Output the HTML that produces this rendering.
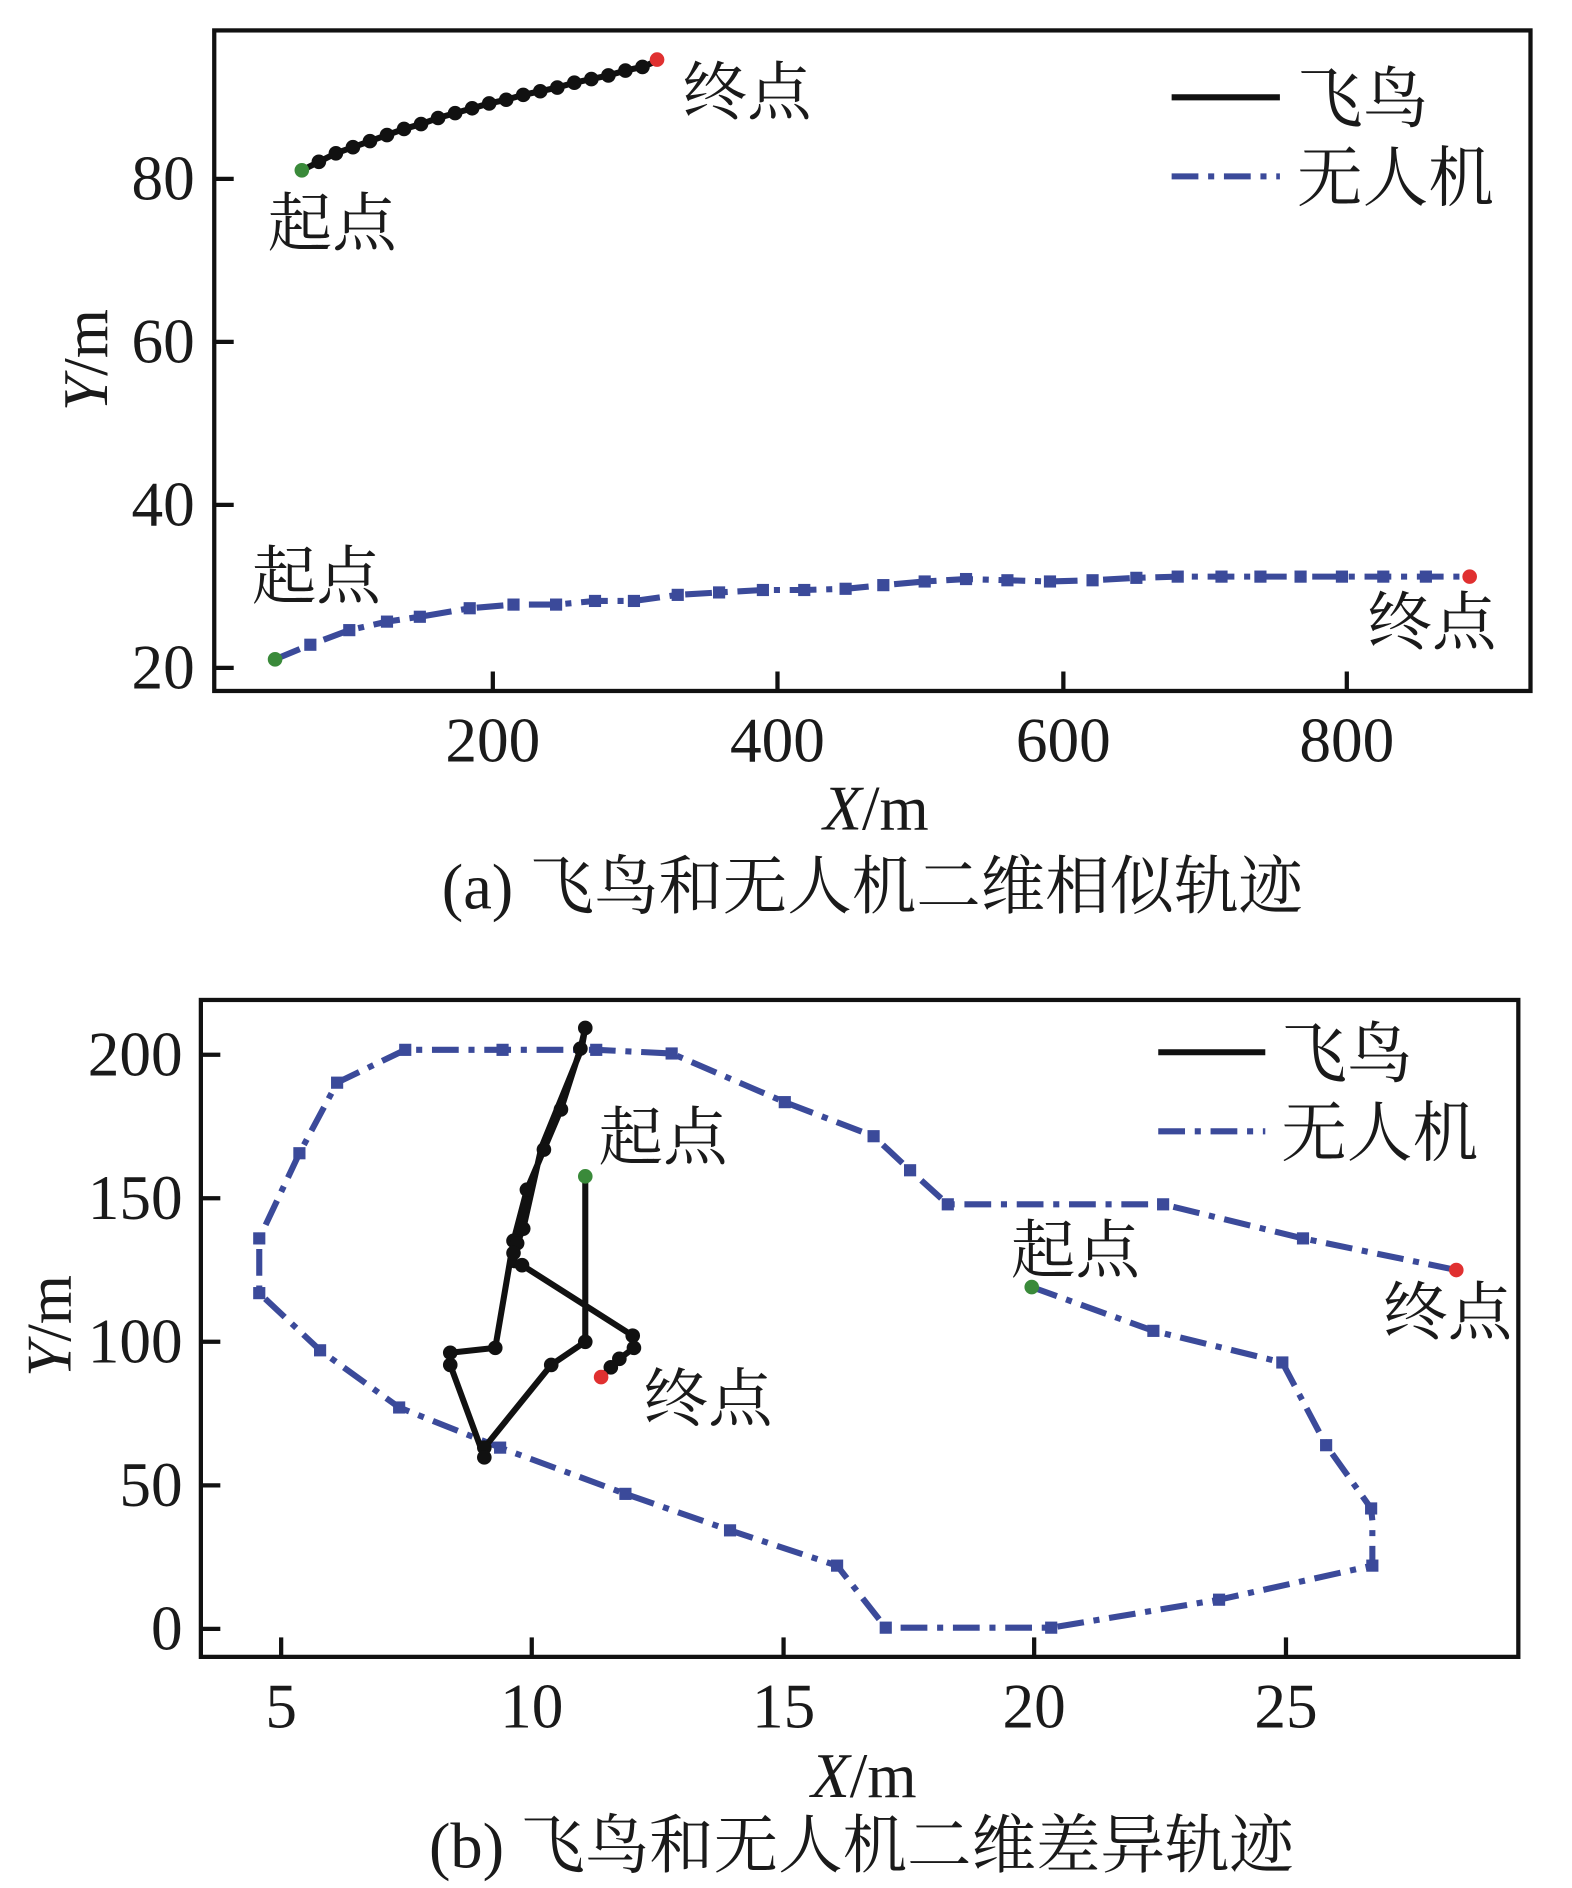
<!DOCTYPE html>
<html><head><meta charset="utf-8"><style>html,body{margin:0;padding:0;background:#fff}svg{display:block}
text{font-family:"Liberation Serif","Noto Serif CJK SC","Noto Sans CJK SC",serif;fill:#1a1a1a}</style></head><body>
<svg width="1572" height="1888" viewBox="0 0 1292 1552" xmlns="http://www.w3.org/2000/svg">
<!-- Panel a -->
<rect x="176" y="25" width="1082" height="543" fill="none" stroke="#111" stroke-width="3.5"/>
<g stroke="#111" stroke-width="3.5">
<line x1="176" y1="147" x2="192" y2="147"/><line x1="176" y1="281" x2="192" y2="281"/><line x1="176" y1="415" x2="192" y2="415"/><line x1="176" y1="549" x2="192" y2="549"/>
<line x1="405" y1="568" x2="405" y2="552"/><line x1="639" y1="568" x2="639" y2="552"/><line x1="874" y1="568" x2="874" y2="552"/><line x1="1107" y1="568" x2="1107" y2="552"/>
</g>
<g font-size="52" text-anchor="end"><text x="160" y="164">80</text><text x="160" y="298">60</text><text x="160" y="432">40</text><text x="160" y="566">20</text></g>
<g font-size="52" text-anchor="middle"><text x="405" y="626">200</text><text x="639" y="626">400</text><text x="874" y="626">600</text><text x="1107" y="626">800</text></g>
<text x="720" y="682" font-size="52" text-anchor="middle"><tspan font-style="italic">X</tspan>/m</text>
<text transform="translate(88,296) rotate(-90)" font-size="52" text-anchor="middle"><tspan font-style="italic">Y</tspan>/m</text>
<text x="717" y="747" font-size="53" text-anchor="middle">(a) 飞鸟和无人机二维相似轨迹</text>
<polyline fill="none" stroke="#111" stroke-width="5" points="248,140 262,133 276,126 290,121 304,116 318,111 332,106 346,102 360,97 374,93 388,89 402,85 416,82 430,78 444,75 458,72 472,68 486,65 500,62 514,58 528,55 540,50"/>
<g fill="#111"><circle cx="262" cy="133" r="6"/><circle cx="276" cy="126" r="6"/><circle cx="290" cy="121" r="6"/><circle cx="304" cy="116" r="6"/><circle cx="318" cy="111" r="6"/><circle cx="332" cy="106" r="6"/><circle cx="346" cy="102" r="6"/><circle cx="360" cy="97" r="6"/><circle cx="374" cy="93" r="6"/><circle cx="388" cy="89" r="6"/><circle cx="402" cy="85" r="6"/><circle cx="416" cy="82" r="6"/><circle cx="430" cy="78" r="6"/><circle cx="444" cy="75" r="6"/><circle cx="458" cy="72" r="6"/><circle cx="472" cy="68" r="6"/><circle cx="486" cy="65" r="6"/><circle cx="500" cy="62" r="6"/><circle cx="514" cy="58" r="6"/><circle cx="528" cy="55" r="6"/></g>
<circle cx="248" cy="140" r="6" fill="#3a8a3a"/><circle cx="540" cy="49" r="6" fill="#e03030"/>
<polyline fill="none" stroke="#3b4a9a" stroke-width="5" stroke-dasharray="22,8,5,8" points="226,542 255,530 287,518 318,511 345,507 386,500 422,497 457,497 489,494 521,494 557,489 591,487 627,485 661,485 695,484 726,481 760,478 794,476 828,477 863,478 898,477 934,475 968,474 1004,474 1036,474 1069,474 1103,474 1137,474 1172,474 1208,474"/>
<g fill="#3b4a9a"><rect x="250" y="525" width="10" height="10"/><rect x="282" y="513" width="10" height="10"/><rect x="313" y="506" width="10" height="10"/><rect x="340" y="502" width="10" height="10"/><rect x="381" y="495" width="10" height="10"/><rect x="417" y="492" width="10" height="10"/><rect x="452" y="492" width="10" height="10"/><rect x="484" y="489" width="10" height="10"/><rect x="516" y="489" width="10" height="10"/><rect x="552" y="484" width="10" height="10"/><rect x="586" y="482" width="10" height="10"/><rect x="622" y="480" width="10" height="10"/><rect x="656" y="480" width="10" height="10"/><rect x="690" y="479" width="10" height="10"/><rect x="721" y="476" width="10" height="10"/><rect x="755" y="473" width="10" height="10"/><rect x="789" y="471" width="10" height="10"/><rect x="823" y="472" width="10" height="10"/><rect x="858" y="473" width="10" height="10"/><rect x="893" y="472" width="10" height="10"/><rect x="929" y="470" width="10" height="10"/><rect x="963" y="469" width="10" height="10"/><rect x="999" y="469" width="10" height="10"/><rect x="1031" y="469" width="10" height="10"/><rect x="1064" y="469" width="10" height="10"/><rect x="1098" y="469" width="10" height="10"/><rect x="1132" y="469" width="10" height="10"/><rect x="1167" y="469" width="10" height="10"/></g>
<circle cx="226" cy="542" r="6" fill="#3a8a3a"/><circle cx="1208" cy="474" r="6" fill="#e03030"/>
<g font-size="53"><text x="220" y="202">起点</text><text x="561" y="94">终点</text><text x="207" y="492">起点</text><text x="1124" y="530">终点</text></g>
<line x1="963" y1="80" x2="1052" y2="80" stroke="#111" stroke-width="5"/>
<text x="1066" y="100" font-size="54">飞鸟</text>
<line x1="963" y1="145" x2="1052" y2="145" stroke="#3b4a9a" stroke-width="5" stroke-dasharray="22,8,5,8"/>
<text x="1066" y="165" font-size="54">无人机</text>

<!-- Panel b -->
<rect x="165" y="822" width="1083" height="540" fill="none" stroke="#111" stroke-width="3.5"/>
<g stroke="#111" stroke-width="3.5">
<line x1="165" y1="867" x2="181" y2="867"/><line x1="165" y1="985" x2="181" y2="985"/><line x1="165" y1="1103" x2="181" y2="1103"/><line x1="165" y1="1221" x2="181" y2="1221"/><line x1="165" y1="1339" x2="181" y2="1339"/>
<line x1="231" y1="1362" x2="231" y2="1346"/><line x1="437" y1="1362" x2="437" y2="1346"/><line x1="644" y1="1362" x2="644" y2="1346"/><line x1="850" y1="1362" x2="850" y2="1346"/><line x1="1057" y1="1362" x2="1057" y2="1346"/>
</g>
<g font-size="52" text-anchor="end"><text x="150" y="884">200</text><text x="150" y="1002">150</text><text x="150" y="1120">100</text><text x="150" y="1238">50</text><text x="150" y="1356">0</text></g>
<g font-size="52" text-anchor="middle"><text x="231" y="1420">5</text><text x="437" y="1420">10</text><text x="644" y="1420">15</text><text x="850" y="1420">20</text><text x="1057" y="1420">25</text></g>
<text x="710" y="1477" font-size="52" text-anchor="middle"><tspan font-style="italic">X</tspan>/m</text>
<text transform="translate(58,1090) rotate(-90)" font-size="52" text-anchor="middle"><tspan font-style="italic">Y</tspan>/m</text>
<text x="708" y="1535" font-size="53" text-anchor="middle">(b) 飞鸟和无人机二维差异轨迹</text>
<polyline fill="none" stroke="#3b4a9a" stroke-width="5" stroke-dasharray="22,8,5,8" points="848,1058 948,1094 1054,1120 1090,1188 1127,1240 1128,1250 1128,1287 1002,1315 864,1338 728,1338 688,1287 600,1258 514,1228 411,1190 328,1157 263,1110 213,1063 213,1018 246,948 277,890 333,863 413,863 490,863 552,866 645,906 718,934 748,962 779,990 850,990 956,990 1071,1018 1197,1044"/>
<g fill="#3b4a9a"><rect x="943" y="1089" width="10" height="10"/><rect x="1049" y="1115" width="10" height="10"/><rect x="1085" y="1183" width="10" height="10"/><rect x="1122" y="1235" width="10" height="10"/><rect x="1123" y="1282" width="10" height="10"/><rect x="997" y="1310" width="10" height="10"/><rect x="859" y="1333" width="10" height="10"/><rect x="723" y="1333" width="10" height="10"/><rect x="683" y="1282" width="10" height="10"/><rect x="595" y="1253" width="10" height="10"/><rect x="509" y="1223" width="10" height="10"/><rect x="406" y="1185" width="10" height="10"/><rect x="323" y="1152" width="10" height="10"/><rect x="258" y="1105" width="10" height="10"/><rect x="208" y="1058" width="10" height="10"/><rect x="208" y="1013" width="10" height="10"/><rect x="241" y="943" width="10" height="10"/><rect x="272" y="885" width="10" height="10"/><rect x="328" y="858" width="10" height="10"/><rect x="408" y="858" width="10" height="10"/><rect x="485" y="858" width="10" height="10"/><rect x="547" y="861" width="10" height="10"/><rect x="640" y="901" width="10" height="10"/><rect x="713" y="929" width="10" height="10"/><rect x="743" y="957" width="10" height="10"/><rect x="774" y="985" width="10" height="10"/><rect x="951" y="985" width="10" height="10"/><rect x="1066" y="1013" width="10" height="10"/></g>
<circle cx="848" cy="1058" r="6" fill="#3a8a3a"/><circle cx="1197" cy="1044" r="6" fill="#e03030"/>
<polyline fill="none" stroke="#111" stroke-width="5" stroke-linejoin="round" points="481,967 481,1103 453,1122 398,1190 398,1198 370,1122 370,1112 407,1108 422,1020 433,978 447,945 461,912 477,862 481,845 478,862 445,943 430,1010 425,1022 422,1040 429,1040 520,1098 521,1108 509,1117 502,1124 494,1132"/>
<g fill="#111"><circle cx="481" cy="1103" r="6"/><circle cx="453" cy="1122" r="6"/><circle cx="398" cy="1190" r="6"/><circle cx="398" cy="1198" r="6"/><circle cx="370" cy="1122" r="6"/><circle cx="370" cy="1112" r="6"/><circle cx="407" cy="1108" r="6"/><circle cx="422" cy="1020" r="6"/><circle cx="433" cy="978" r="6"/><circle cx="447" cy="945" r="6"/><circle cx="461" cy="912" r="6"/><circle cx="477" cy="862" r="6"/><circle cx="481" cy="845" r="6"/><circle cx="430" cy="1010" r="6"/><circle cx="425" cy="1022" r="6"/><circle cx="422" cy="1030" r="6"/><circle cx="429" cy="1040" r="6"/><circle cx="520" cy="1098" r="6"/><circle cx="521" cy="1108" r="6"/><circle cx="509" cy="1117" r="6"/><circle cx="502" cy="1124" r="6"/></g>
<circle cx="481" cy="967" r="6" fill="#3a8a3a"/><circle cx="494" cy="1132" r="6" fill="#e03030"/>
<g font-size="53"><text x="492" y="953">起点</text><text x="529" y="1168">终点</text><text x="831" y="1046">起点</text><text x="1137" y="1097">终点</text></g>
<line x1="952" y1="865" x2="1040" y2="865" stroke="#111" stroke-width="5"/>
<text x="1053" y="885" font-size="54">飞鸟</text>
<line x1="952" y1="930" x2="1040" y2="930" stroke="#3b4a9a" stroke-width="5" stroke-dasharray="22,8,5,8"/>
<text x="1053" y="950" font-size="54">无人机</text>
</svg>
</body></html>
